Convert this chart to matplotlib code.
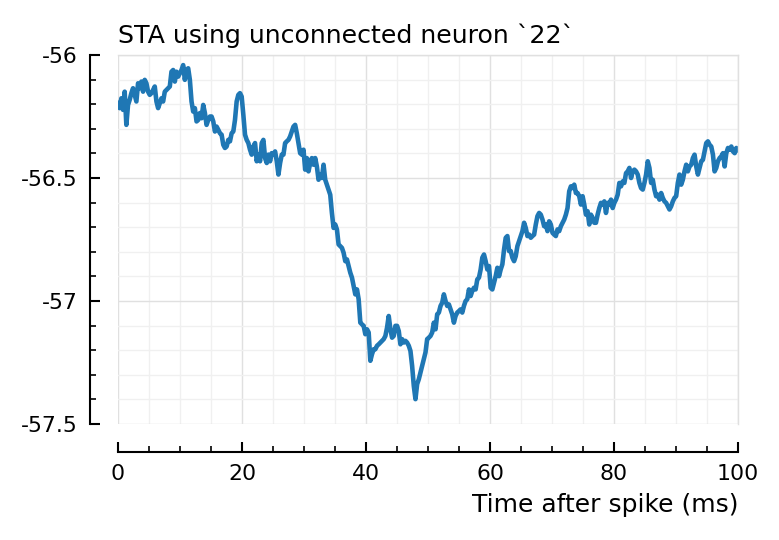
import numpy as np
import matplotlib
matplotlib.use("Agg")
import matplotlib.pyplot as plt
from matplotlib.ticker import MultipleLocator, FuncFormatter

plt.rcParams["axes.unicode_minus"] = False

# STA trace (mV) at evenly spaced samples from 0 to 100 ms
sta_0_34 = [
    -56.196, -56.216, -56.176, -56.223, -56.149, -56.284, -56.203, -56.182, -56.155, -56.135,
    -56.162, -56.189, -56.115, -56.135, -56.108, -56.149, -56.101, -56.115, -56.149, -56.162,
    -56.155, -56.142, -56.128, -56.189, -56.216, -56.196, -56.176, -56.189, -56.149, -56.142,
    -56.135, -56.128, -56.068, -56.061, -56.108, -56.068, -56.088, -56.074, -56.061, -56.041,
    -56.101, -56.061, -56.054, -56.101, -56.189, -56.230, -56.216, -56.270, -56.264, -56.236,
    -56.257, -56.203, -56.236, -56.284, -56.264, -56.250, -56.250, -56.270, -56.311, -56.291,
    -56.304, -56.318, -56.324, -56.365, -56.378, -56.372, -56.345, -56.351, -56.318, -56.311,
    -56.264, -56.189, -56.162, -56.155, -56.169, -56.243, -56.324, -56.345, -56.358, -56.385,
    -56.405, -56.372, -56.358, -56.432, -56.405, -56.432, -56.358, -56.345, -56.419, -56.439,
    -56.405, -56.432, -56.399, -56.405, -56.392, -56.432, -56.486, -56.439, -56.405, -56.405,
    -56.358, -56.351, -56.345, -56.331, -56.311, -56.291, -56.284, -56.318, -56.358, -56.399,
    -56.405, -56.385, -56.466, -56.419, -56.473, -56.439, -56.419, -56.446, -56.419, -56.453,
    -56.507, -56.486, -56.500, -56.446, -56.507, -56.527, -56.547, -56.568,
]
sta_34_71 = [
    -56.642, -56.703, -56.689, -56.709, -56.770, -56.777, -56.784, -56.804, -56.838, -56.831,
    -56.858, -56.885, -56.905, -56.939, -56.973, -56.953, -56.993, -57.088, -57.095, -57.101,
    -57.135, -57.115, -57.128, -57.243, -57.216, -57.196, -57.196, -57.182, -57.176, -57.169,
    -57.162, -57.155, -57.142, -57.108, -57.061, -57.115, -57.149, -57.142, -57.101, -57.101,
    -57.122, -57.176, -57.155, -57.169, -57.162, -57.169, -57.182, -57.203, -57.264, -57.345,
    -57.399, -57.338, -57.318, -57.291, -57.264, -57.236, -57.209, -57.155, -57.149, -57.142,
    -57.128, -57.088, -57.115, -57.054, -57.047, -57.020, -57.007, -56.973, -57.000, -57.020,
    -57.014, -57.034, -57.054, -57.088, -57.061, -57.047, -57.041, -57.034, -57.047, -57.020,
    -57.000, -56.993, -56.953, -56.980, -56.959, -56.946, -56.953, -56.912, -56.905, -56.872,
    -56.824, -56.811, -56.838, -56.872, -56.858, -56.946, -56.953, -56.926, -56.899, -56.865,
    -56.899, -56.872, -56.851, -56.791, -56.743, -56.736, -56.797, -56.797, -56.824, -56.838,
    -56.818, -56.777, -56.757, -56.736, -56.716, -56.682, -56.703, -56.736, -56.730, -56.743,
    -56.736, -56.730, -56.689, -56.655, -56.642, -56.649, -56.669, -56.696, -56.689, -56.716,
    -56.676, -56.689, -56.723, -56.730, -56.736, -56.709, -56.716,
]
sta_71_100 = [
    -56.696, -56.682, -56.669, -56.649, -56.622, -56.554, -56.534, -56.541, -56.527, -56.561,
    -56.561, -56.574, -56.608, -56.574, -56.608, -56.649, -56.635, -56.689, -56.649, -56.662,
    -56.682, -56.682, -56.649, -56.622, -56.601, -56.608, -56.595, -56.642, -56.601, -56.608,
    -56.588, -56.622, -56.601, -56.588, -56.568, -56.520, -56.534, -56.514, -56.520, -56.480,
    -56.473, -56.459, -56.500, -56.473, -56.466, -56.473, -56.486, -56.520, -56.541, -56.547,
    -56.520, -56.486, -56.432, -56.459, -56.520, -56.507, -56.547, -56.574, -56.568, -56.588,
    -56.561, -56.581, -56.595, -56.601, -56.615, -56.628, -56.615, -56.595, -56.581, -56.574,
    -56.520, -56.486, -56.527, -56.507, -56.473, -56.446, -56.473, -56.453, -56.446, -56.419,
    -56.405, -56.453, -56.486, -56.459, -56.432, -56.426, -56.392, -56.358, -56.351, -56.365,
    -56.372, -56.405, -56.473, -56.459, -56.432, -56.419, -56.412, -56.399, -56.453, -56.399,
    -56.378, -56.385, -56.372, -56.392, -56.399, -56.378, -56.385,
]
sta = np.array(sta_0_34 + sta_34_71 + sta_71_100)
t_ms = np.linspace(0, 100, len(sta))  # samples are evenly spaced

title = "STA using unconnected neuron `22`"
xlabel = "Time after spike (ms)"

fig = plt.figure(figsize=(7.79, 5.40), dpi=100)
ax = fig.add_axes([118 / 779, 1 - 424 / 540, 620 / 779, 369 / 540])

ax.plot(t_ms, sta, color="#1f77b4", lw=3.3, solid_joinstyle="round")

ax.set_xlim(0, 100)
ax.set_ylim(-57.5, -56)
ax.xaxis.set_major_locator(MultipleLocator(20))
ax.xaxis.set_minor_locator(MultipleLocator(5))
ax.yaxis.set_major_locator(MultipleLocator(0.5))
ax.yaxis.set_minor_locator(MultipleLocator(0.1))
ax.yaxis.set_major_formatter(FuncFormatter(lambda v, p: "%g" % v))
ax.xaxis.set_major_formatter(FuncFormatter(lambda v, p: "%g" % v))

ax.set_axisbelow(True)
ax.grid(which="major", color="#e0e0e0", lw=1.0)
ax.grid(which="minor", color="#f0f0f0", lw=1.0)

for s in ["left", "bottom"]:
    ax.spines[s].set_position(("outward", 20))
    ax.spines[s].set_linewidth(1.5)
    ax.spines[s].set_color("black")
for s in ["top", "right"]:
    ax.spines[s].set_color("#e0e0e0")
    ax.spines[s].set_linewidth(1.0)

ax.tick_params(which="major", direction="in", length=7.2, width=1.5,
               labelsize=15.8, pad=9, colors="black")
ax.tick_params(which="minor", direction="in", length=4, width=1.2, colors="black")

ax.set_title(title, loc="left", fontsize=18.2, pad=8.5)
ax.set_xlabel(xlabel, loc="right", fontsize=18.0, labelpad=6)

fig.savefig("out.png", dpi=100)
